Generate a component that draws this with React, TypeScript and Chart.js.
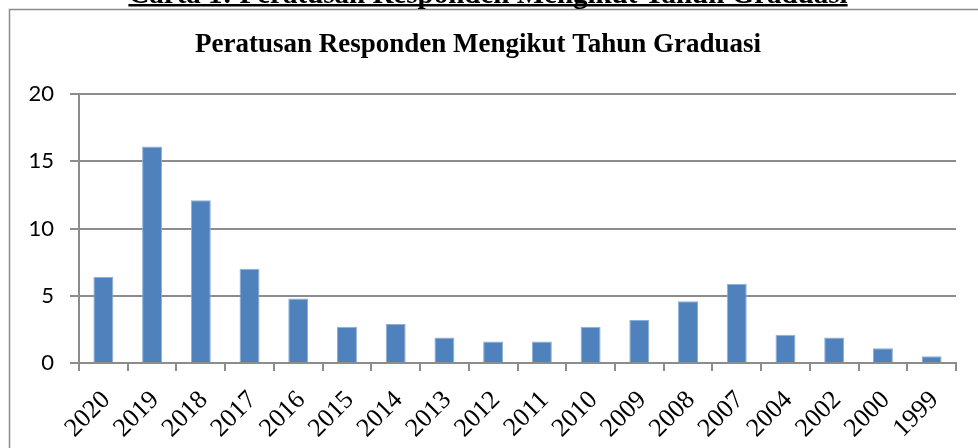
import React, { useEffect, useRef } from "react";
import { Chart, registerables } from "chart.js";

Chart.register(...registerables);

const caption = "Carta 1: Peratusan Responden Mengikut Tahun Graduasi";
const chartTitle = "Peratusan Responden Mengikut Tahun Graduasi";
const years = [
  "2020", "2019", "2018", "2017", "2016", "2015", "2014", "2013", "2012",
  "2011", "2010", "2009", "2008", "2007", "2004", "2002", "2000", "1999",
];
const percentages = [
  6.4, 16.1, 12.1, 7.0, 4.8, 2.7, 2.9, 1.9, 1.6,
  1.6, 2.7, 3.2, 4.6, 5.9, 2.1, 1.9, 1.1, 0.5,
];
const yTicks = [0, 5, 10, 15, 20];

const framePlugin = {
  id: "frame",
  beforeDraw(chart: any) {
    const ctx = chart.ctx;
    ctx.save();
    ctx.fillStyle = "#ffffff";
    ctx.fillRect(0, 0, chart.width, chart.height);
    ctx.strokeStyle = "#8c8c8c";
    ctx.lineWidth = 1.5;
    ctx.strokeRect(9.5, 9.5, 1100, 1100);
    ctx.fillStyle = "#000000";
    ctx.font = 'bold 29px "Liberation Serif"';
    ctx.textAlign = "center";
    ctx.textBaseline = "alphabetic";
    ctx.fillText(caption, 488, 3);
    const w = ctx.measureText(caption).width;
    ctx.fillRect(488 - w / 2, 4, w, 2.5);
    ctx.restore();
  },
};

export default function App() {
  const ref = useRef<HTMLCanvasElement>(null);
  useEffect(() => {
    if (!ref.current) return;
    const chart = new Chart(ref.current, {
      type: "bar",
      data: {
        labels: years,
        datasets: [
          {
            data: percentages,
            backgroundColor: "#4F81BD",
            borderColor: "#8eaed6",
            borderWidth: { top: 1, left: 1, right: 1, bottom: 0 },
            barPercentage: 1,
            categoryPercentage: 0.41,
          },
        ],
      },
      options: {
        responsive: false,
        animation: false,
        layout: { padding: { left: 0, right: 22, top: 0, bottom: 0 } },
        plugins: {
          legend: { display: false },
          tooltip: { enabled: false },
          title: {
            display: true,
            text: chartTitle,
            color: "#000000",
            font: { family: '"Liberation Serif"', size: 27, weight: "bold" },
            padding: { top: 29, bottom: 32.6 },
          },
        },
        scales: {
          x: {
            grid: {
              offset: true,
              drawOnChartArea: false,
              drawTicks: true,
              tickLength: 8,
              color: "#8c8c8c",
              lineWidth: 2,
            },
            border: { display: true, color: "#8c8c8c", width: 2 },
            ticks: {
              color: "#000000",
              font: { family: '"Liberation Serif"', size: 26 },
              minRotation: 45,
              maxRotation: 45,
              padding: 14,
              labelOffset: 3,
              autoSkip: false,
            },
            afterFit(scale: any) {
              scale.height = 85;
            },
          },
          y: {
            min: 0,
            max: 20,
            afterBuildTicks(scale: any) {
              scale.ticks = yTicks.map((v) => ({ value: v }));
            },
            grid: {
              color: "#8c8c8c",
              lineWidth: 2,
              tickLength: 9,
            },
            border: { display: true, color: "#8c8c8c", width: 2 },
            ticks: {
              color: "#000000",
              font: { family: "Lato", size: 22 },
              padding: 16,
            },
            afterFit(scale: any) {
              scale.width = 79;
            },
          },
        },
      },
      plugins: [framePlugin],
    });
    return () => chart.destroy();
  }, []);
  return (
    <div style={{ position: "absolute", left: 0, top: 0, width: 978, height: 448 }}>
      <canvas ref={ref} width={978} height={448} />
    </div>
  );
}
